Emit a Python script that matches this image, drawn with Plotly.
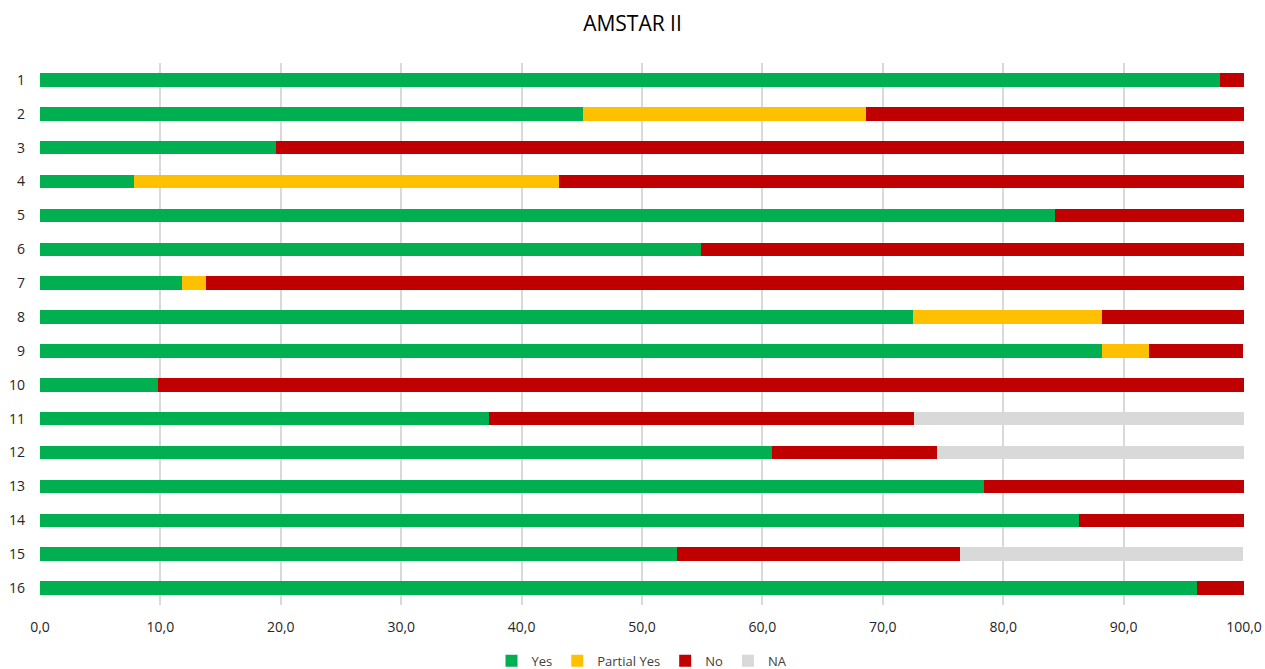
import plotly.graph_objects as go

items = [str(i) for i in range(1, 17)]
yes = [98.0, 45.1, 19.6, 7.8, 84.3, 54.9, 11.8, 72.5, 88.2, 9.8, 37.3, 60.8, 78.4, 86.3, 52.9, 96.1]
partial_yes = [0.0, 23.5, 0.0, 35.3, 0.0, 0.0, 2.0, 15.7, 3.9, 0.0, 0.0, 0.0, 0.0, 0.0, 0.0, 0.0]
no = [2.0, 31.4, 80.4, 56.9, 15.7, 45.1, 86.3, 11.8, 7.8, 90.2, 35.3, 13.7, 21.6, 13.7, 23.5, 3.9]
na = [0.0, 0.0, 0.0, 0.0, 0.0, 0.0, 0.0, 0.0, 0.0, 0.0, 27.5, 25.5, 0.0, 0.0, 23.5, 0.0]

tick_vals = [0, 10, 20, 30, 40, 50, 60, 70, 80, 90, 100]
tick_text = ["0,0", "10,0", "20,0", "30,0", "40,0", "50,0", "60,0", "70,0", "80,0", "90,0", "100,0"]

series = [
    ("Yes", yes, "#00B050"),
    ("Partial Yes", partial_yes, "#FFC000"),
    ("No", no, "#C00000"),
    ("NA", na, "#D9D9D9"),
]

fig = go.Figure()
for name, vals, color in series:
    fig.add_trace(go.Bar(
        name=name, y=items, x=vals, orientation="h",
        marker=dict(color=color, line=dict(width=0)),
        hoverinfo="x+y+name",
    ))

font_family = "Open Sans, Lato, sans-serif"
fig.update_layout(
    barmode="stack",
    bargap=0.6,
    width=1265, height=669,
    margin=dict(l=40, r=21, t=63, b=64, autoexpand=False),
    paper_bgcolor="white", plot_bgcolor="white",
    title=dict(text="AMSTAR II", x=0.5, xanchor="center", y=0.965, yanchor="middle",
               font=dict(family=font_family, size=21, color="#000000")),
    font=dict(family=font_family, size=14, color="#262626"),
    legend=dict(orientation="h", x=0.5, xanchor="center", y=-0.103, yanchor="middle",
                font=dict(size=13, color="#404040"), itemwidth=30,
                traceorder="normal", tracegroupgap=0),
    xaxis=dict(range=[0, 100], tickvals=tick_vals, ticktext=tick_text,
               showgrid=True, gridcolor="#D9D9D9", gridwidth=1.5, zeroline=False,
               showline=False, ticks="", ticklabelstandoff=12, automargin=False),
    yaxis=dict(autorange="reversed", showgrid=False, showline=False, ticks="",
               ticklabelstandoff=14, automargin=False),
)

fig.write_html("out.html")
